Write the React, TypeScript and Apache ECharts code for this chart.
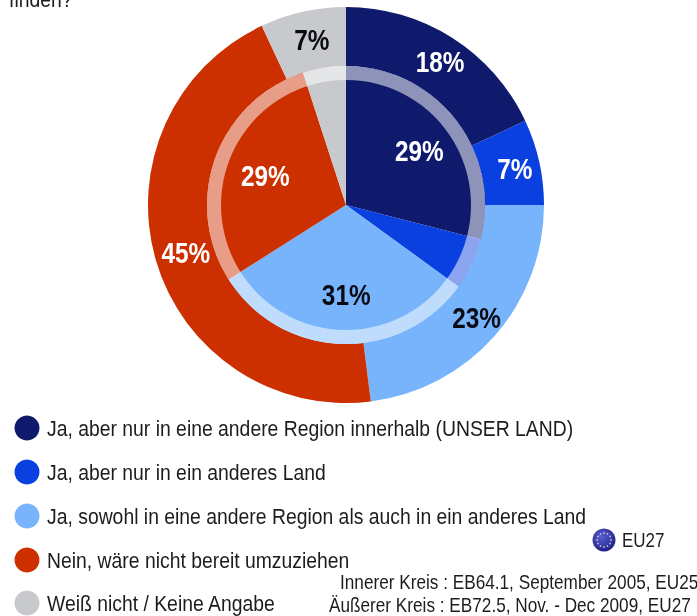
import React, { useEffect, useRef } from "react";
import * as echarts from "echarts";

const categories = [
  "Ja, aber nur in eine andere Region innerhalb (UNSER LAND)",
  "Ja, aber nur in ein anderes Land",
  "Ja, sowohl in eine andere Region als auch in ein anderes Land",
  "Nein, wäre nicht bereit umzuziehen",
  "Weiß nicht / Keine Angabe",
];
const outerValues = [18, 7, 23, 45, 7];
const innerValues = [29, 6, 31, 29, 5];
const innerLabelled = [true, false, true, true, false];
const colors = ["#0f1a6c", "#0a3fe0", "#78b4fb", "#cc2f00", "#c8c9cc"];
const labelColors = ["#fff", "#fff", "#0a0a14", "#fff", "#0a0a14"];
const questionTail = "finden?";
const flagLabel = "EU27";
const noteInner = "Innerer Kreis : EB64.1, September 2005, EU25";
const noteOuter = "Äußerer Kreis : EB72.5, Nov. - Dec 2009, EU27";

const FONT = "'Liberation Sans', Arial, sans-serif";
const CX = 346;
const CY = 205;
const legendRows = [428, 472, 516, 560, 603];

const starDots = Array.from({ length: 12 }, (_, i) => {
  const a = (i * Math.PI) / 6;
  return {
    type: "circle",
    silent: true,
    shape: { cx: 604 + 7 * Math.cos(a), cy: 540 + 7 * Math.sin(a), r: 0.8 },
    style: { fill: "#c9c8e8" },
  };
});

const text = (str: string, x: number, y: number, size: number, scaleX = 0.88) => ({
  type: "text",
  silent: true,
  x,
  y,
  scaleX,
  style: {
    text: str,
    fill: "#1c1c1c",
    font: `${size}px ${FONT}`,
    textVerticalAlign: "middle",
  },
});

// Percent labels sit at the middle angle of their own slice, so they follow the data.
const sliceLabels = (values: number[], radius: number, shown: boolean[]) => {
  const total = values.reduce((a, b) => a + b, 0);
  let acc = 0;
  return values.flatMap((v, i) => {
    const mid = ((acc + v / 2) / total) * 2 * Math.PI;
    acc += v;
    if (!shown[i]) return [];
    return [
      {
        type: "text",
        silent: true,
        z: 100,
        x: CX + 3 + radius * Math.sin(mid),
        y: CY + 1 - radius * Math.cos(mid),
        scaleX: 0.84,
        style: {
          text: `${v}%`,
          fill: labelColors[i],
          font: `bold 29px ${FONT}`,
          textAlign: "center",
          textVerticalAlign: "middle",
        },
      },
    ];
  });
};

export default function App() {
  const ref = useRef<HTMLDivElement>(null);
  useEffect(() => {
    document.body.style.margin = "0";
    const chart = echarts.init(ref.current!, undefined, { renderer: "svg" });
    chart.setOption({
      animation: false,
      backgroundColor: "#fff",
      graphic: [
        text(questionTail, 9, -1, 22),
        ...categories.flatMap((name, i) => [
          {
            type: "circle",
            silent: true,
            shape: { cx: 27, cy: legendRows[i], r: 12.5 },
            style: { fill: colors[i] },
          },
          text(name, 47, legendRows[i], 22),
        ]),
        {
          type: "circle",
          silent: true,
          shape: { cx: 604, cy: 540, r: 11.5 },
          style: {
            fill: new echarts.graphic.RadialGradient(0.4, 0.35, 0.7, [
              { offset: 0, color: "#5a5fd0" },
              { offset: 1, color: "#1c1f80" },
            ]),
          },
        },
        ...starDots,
        text(flagLabel, 622, 540, 20, 0.85),
        text(noteInner, 340, 582, 20, 0.86),
        text(noteOuter, 329, 605, 20, 0.86),
        ...sliceLabels(outerValues, 170, outerValues.map(() => true)),
        ...sliceLabels(innerValues, 89, innerLabelled),
      ],
      series: [
        {
          type: "pie",
          center: [CX, CY],
          radius: [139, 198],
          startAngle: 90,
          silent: true,
          data: categories.map((name, i) => ({
            name,
            value: outerValues[i],
            itemStyle: { color: colors[i] },
          })),
          label: { show: false },
          labelLine: { show: false },
        },
        {
          type: "pie",
          center: [CX, CY],
          radius: [0, 139],
          startAngle: 90,
          silent: true,
          data: categories.map((name, i) => ({
            name,
            value: innerValues[i],
            itemStyle: { color: colors[i] },
          })),
          label: { show: false },
          labelLine: { show: false },
        },
        {
          type: "pie",
          center: [CX, CY],
          radius: [125, 139],
          startAngle: 90,
          silent: true,
          data: [{ name: "ring", value: 1, itemStyle: { color: "rgba(255,255,255,0.53)" } }],
          label: { show: false },
          labelLine: { show: false },
        },
      ],
    });
    return () => chart.dispose();
  }, []);
  return <div ref={ref} style={{ width: 697, height: 616, filter: "blur(0.4px)" }} />;
}
